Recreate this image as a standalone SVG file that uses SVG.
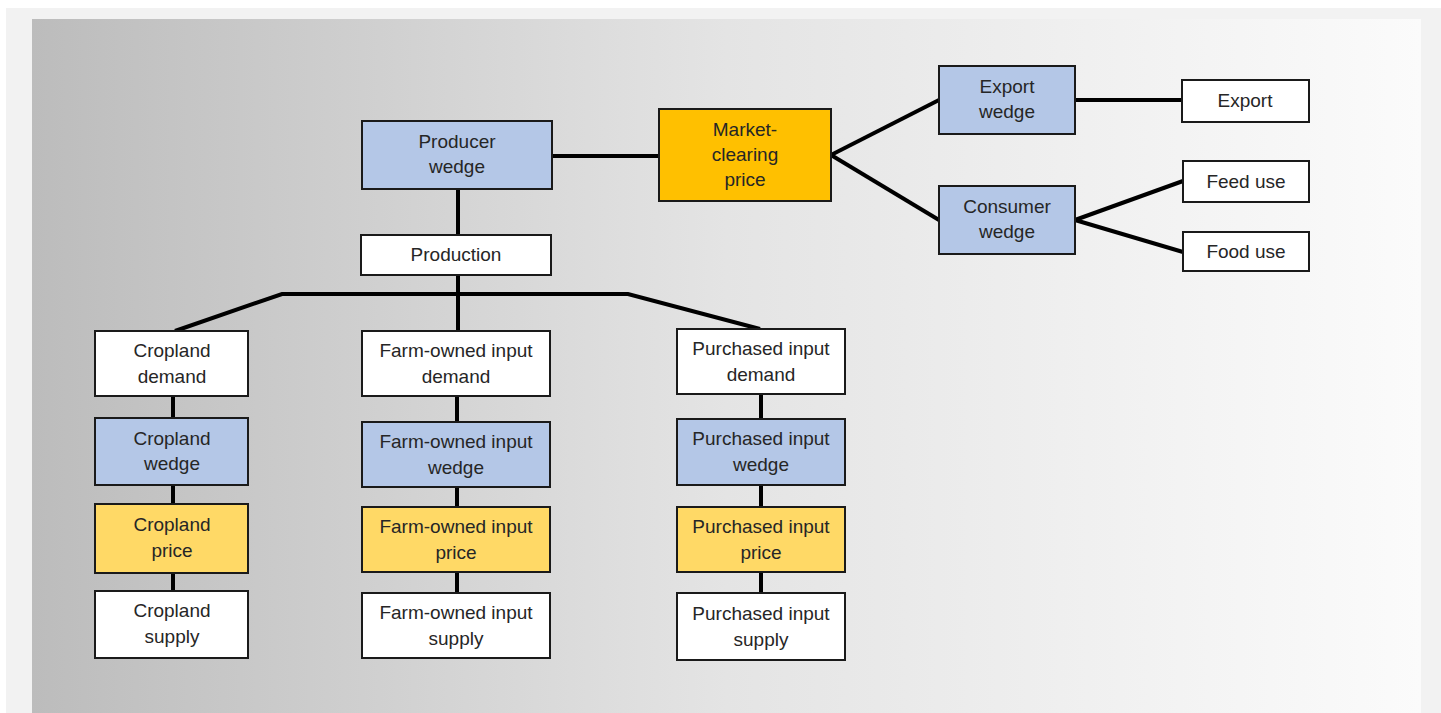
<svg xmlns="http://www.w3.org/2000/svg" width="1441" height="713" viewBox="0 0 1441 713">
<defs>
<linearGradient id="bg" x1="0" y1="0" x2="1" y2="0">
<stop offset="0" stop-color="#bcbcbc"/>
<stop offset="0.5" stop-color="#e4e4e4"/>
<stop offset="1" stop-color="#fbfbfb"/>
</linearGradient>
<style>
.n rect{stroke:#1a1a1a;stroke-width:2}
.w rect{fill:#ffffff}
.b rect{fill:#b4c7e7}
.y rect{fill:#ffd966}
.o rect{fill:#ffc000}
text{font-family:"Liberation Sans",Arial,sans-serif;font-size:19px;fill:#262626;text-anchor:middle}
.c path{stroke:#000;stroke-width:4;fill:none;stroke-linejoin:miter}
</style>
</defs>
<rect x="0" y="0" width="1441" height="713" fill="#ffffff"/>
<rect x="6" y="8" width="1435" height="705" fill="#f2f2f2"/>
<rect x="32" y="19" width="1389" height="694" fill="url(#bg)"/>
<g id="connectors" class="c">
<path d="M552 156 H659"/>
<path d="M831 155 L939 100"/>
<path d="M831 155 L939 220"/>
<path d="M1075 100 H1182"/>
<path d="M1075 220 L1183 181"/>
<path d="M1075 220 L1183 252"/>
<path d="M458 189 V235"/>
<path d="M458 275 V331"/>
<path d="M175 331 L282 294 H628 L760 329"/>
<path d="M173 396 V418"/>
<path d="M173 485 V504"/>
<path d="M173 573 V591"/>
<path d="M457 396 V422"/>
<path d="M457 487 V507"/>
<path d="M457 572 V593"/>
<path d="M761 394 V419"/>
<path d="M761 485 V507"/>
<path d="M761 572 V593"/>
</g>
<g id="producer-wedge" class="n b"><rect x="362" y="121" width="190" height="68"/><text x="457" y="148">Producer</text><text x="457" y="173">wedge</text></g>
<g id="production" class="n w"><rect x="361" y="235" width="190" height="40"/><text x="456" y="261">Production</text></g>
<g id="market-clearing-price" class="n o"><rect x="659" y="109" width="172" height="92"/><text x="745" y="136">Market-</text><text x="745" y="161">clearing</text><text x="745" y="186">price</text></g>
<g id="export-wedge" class="n b"><rect x="939" y="66" width="136" height="68"/><text x="1007" y="93">Export</text><text x="1007" y="118">wedge</text></g>
<g id="consumer-wedge" class="n b"><rect x="939" y="186" width="136" height="68"/><text x="1007" y="213">Consumer</text><text x="1007" y="238">wedge</text></g>
<g id="export" class="n w"><rect x="1182" y="80" width="127" height="42"/><text x="1245" y="107">Export</text></g>
<g id="feed-use" class="n w"><rect x="1183" y="161" width="126" height="41"/><text x="1246" y="188">Feed use</text></g>
<g id="food-use" class="n w"><rect x="1183" y="232" width="126" height="39"/><text x="1246" y="258">Food use</text></g>
<g id="cropland-demand" class="n w"><rect x="95" y="331" width="153" height="65"/><text x="172" y="357">Cropland</text><text x="172" y="383">demand</text></g>
<g id="cropland-wedge" class="n b"><rect x="95" y="418" width="153" height="67"/><text x="172" y="445">Cropland</text><text x="172" y="470">wedge</text></g>
<g id="cropland-price" class="n y"><rect x="95" y="504" width="153" height="69"/><text x="172" y="531">Cropland</text><text x="172" y="557">price</text></g>
<g id="cropland-supply" class="n w"><rect x="95" y="591" width="153" height="67"/><text x="172" y="617">Cropland</text><text x="172" y="643">supply</text></g>
<g id="farm-owned-input-demand" class="n w"><rect x="362" y="331" width="188" height="65"/><text x="456" y="357">Farm-owned input</text><text x="456" y="383">demand</text></g>
<g id="farm-owned-input-wedge" class="n b"><rect x="362" y="422" width="188" height="65"/><text x="456" y="448">Farm-owned input</text><text x="456" y="474">wedge</text></g>
<g id="farm-owned-input-price" class="n y"><rect x="362" y="507" width="188" height="65"/><text x="456" y="533">Farm-owned input</text><text x="456" y="559">price</text></g>
<g id="farm-owned-input-supply" class="n w"><rect x="362" y="593" width="188" height="65"/><text x="456" y="619">Farm-owned input</text><text x="456" y="645">supply</text></g>
<g id="purchased-input-demand" class="n w"><rect x="677" y="329" width="168" height="65"/><text x="761" y="355">Purchased input</text><text x="761" y="381">demand</text></g>
<g id="purchased-input-wedge" class="n b"><rect x="677" y="419" width="168" height="66"/><text x="761" y="445">Purchased input</text><text x="761" y="471">wedge</text></g>
<g id="purchased-input-price" class="n y"><rect x="677" y="507" width="168" height="65"/><text x="761" y="533">Purchased input</text><text x="761" y="559">price</text></g>
<g id="purchased-input-supply" class="n w"><rect x="677" y="593" width="168" height="67"/><text x="761" y="620">Purchased input</text><text x="761" y="646">supply</text></g>
</svg>
